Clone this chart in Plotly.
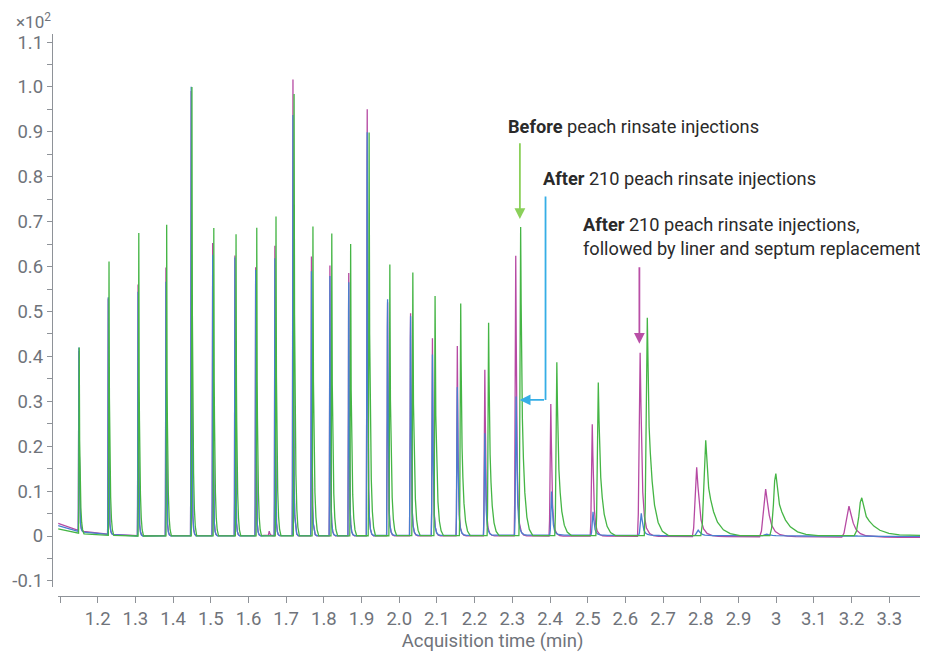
import numpy as np
import plotly.graph_objects as go

# peak apex times (min) and heights (x10^2 counts)
before_t = [1.151, 1.230, 1.309, 1.383, 1.450, 1.508, 1.567, 1.622, 1.673, 1.721,
            1.771, 1.821, 1.871, 1.920, 1.975, 2.036, 2.095, 2.163, 2.237, 2.322,
            2.418, 2.528, 2.658, 2.813, 2.999, 3.227]
before_h = [0.414, 0.610, 0.675, 0.693, 1.000, 0.686, 0.672, 0.686, 0.711, 0.984,
            0.689, 0.673, 0.650, 0.898, 0.604, 0.586, 0.534, 0.517, 0.474, 0.687,
            0.386, 0.341, 0.485, 0.212, 0.138, 0.084]
before_w = [0.0018, 0.0018, 0.0018, 0.0018, 0.0018, 0.0018, 0.0018, 0.0018, 0.0019, 0.002,
            0.0022, 0.0022, 0.0023, 0.0024, 0.0026, 0.0028, 0.0032, 0.0036, 0.004, 0.0046,
            0.0055, 0.0065, 0.008, 0.013, 0.016, 0.02]

replaced_t = [1.150, 1.228, 1.307, 1.381, 1.448, 1.505, 1.564, 1.619, 1.655, 1.670,
              1.718, 1.767, 1.816, 1.866, 1.915, 1.969, 2.030, 2.088, 2.154, 2.227,
              2.309, 2.402, 2.512, 2.639, 2.789, 2.972, 3.193]
replaced_h = [0.400, 0.525, 0.559, 0.597, 0.990, 0.652, 0.624, 0.598, 0.010, 0.646,
              1.016, 0.622, 0.602, 0.585, 0.950, 0.520, 0.496, 0.440, 0.423, 0.370,
              0.624, 0.294, 0.249, 0.409, 0.154, 0.106, 0.069]
replaced_w = [0.0018, 0.0018, 0.0018, 0.0018, 0.0018, 0.0018, 0.0018, 0.0018, 0.003, 0.0018,
              0.002, 0.002, 0.0021, 0.0022, 0.0024, 0.0026, 0.0028, 0.0031, 0.0034, 0.0037,
              0.0041, 0.0047, 0.0055, 0.007, 0.0115, 0.016, 0.019]

after_t = [1.150, 1.228, 1.307, 1.381, 1.448, 1.505, 1.564, 1.619, 1.670, 1.718,
           1.767, 1.816, 1.866, 1.915, 1.969, 2.030, 2.088, 2.154, 2.227, 2.310,
           2.404, 2.514, 2.642, 2.793, 2.975, 3.198]
after_h = [0.410, 0.528, 0.544, 0.566, 1.000, 0.626, 0.620, 0.592, 0.618, 0.937,
           0.589, 0.578, 0.564, 0.898, 0.526, 0.488, 0.403, 0.330, 0.227, 0.309,
           0.097, 0.052, 0.049, 0.012, 0.004, 0.002]
after_w = [0.0018, 0.0018, 0.0018, 0.0018, 0.0018, 0.0018, 0.0018, 0.0018, 0.0018, 0.002,
           0.002, 0.0021, 0.0022, 0.0024, 0.0026, 0.0028, 0.0031, 0.0034, 0.0037, 0.0042,
           0.0048, 0.0055, 0.007, 0.011, 0.015, 0.018]

# baseline drift at the start of the run
base_t = [1.095, 1.12, 1.15, 1.2, 1.3, 2.4, 3.4]
before_base = [0.016, 0.011, 0.006, 0.002, 0.0, 0.001, 0.001]
replaced_base = [0.028, 0.020, 0.012, 0.005, 0.001, 0.0, -0.003]
after_base = [0.023, 0.016, 0.010, 0.005, 0.0, 0.002, -0.001]

x_ticks = [1.1, 1.2, 1.3, 1.4, 1.5, 1.6, 1.7, 1.8, 1.9, 2.0, 2.1, 2.2, 2.3,
           2.4, 2.5, 2.6, 2.7, 2.8, 2.9, 3.0, 3.1, 3.2, 3.3]
x_labels = ["", "1.2", "1.3", "1.4", "1.5", "1.6", "1.7", "1.8", "1.9", "2.0", "2.1",
            "2.2", "2.3", "2.4", "2.5", "2.6", "2.7", "2.8", "2.9", "3", "3.1", "3.2", "3.3"]
y_ticks = [-0.1, 0, 0.1, 0.2, 0.3, 0.4, 0.5, 0.6, 0.7, 0.8, 0.9, 1.0, 1.1]
y_labels = ["-0.1", "0", "0.1", "0.2", "0.3", "0.4", "0.5", "0.6", "0.7", "0.8", "0.9", "1.0", "1.1"]

# peak outline (in widths / fraction of apex)
REL_T = np.array([-1.0, -0.7, -0.4, -0.2, 0, 0.3, 0.6, 1.0, 1.6, 2.4, 3.6, 5.0, 7.0])
TAILING = np.array([0, 0.12, 0.5, 0.88, 1, 0.75, 0.5, 0.38, 0.25, 0.14, 0.06, 0.02, 0])
SHARP = np.array([0, 0.12, 0.5, 0.88, 1, 0.72, 0.45, 0.24, 0.11, 0.045, 0.015, 0.004, 0])

X0, X1 = 1.095, 3.40


def trace_xy(times, heights, widths, profile, b_t, b_v):
    xs, ys = [X0], [0.0]
    n = len(times)
    for i in range(n):
        px = times[i] + REL_T * widths[i]
        py = heights[i] * profile
        if i + 1 < n:
            keep = px < times[i + 1] + REL_T[0] * widths[i + 1]
            px, py = px[keep], py[keep]
        xs.extend(px)
        ys.extend(py)
    xs.append(X1)
    ys.append(0.0)
    xs = np.array(xs)
    return xs, np.array(ys) + np.interp(xs, b_t, b_v)


fig = go.Figure()

series = [
    (replaced_t, replaced_h, replaced_w, SHARP, replaced_base, "#b64aa3"),
    (after_t, after_h, after_w, SHARP, after_base, "#4a7fd0"),
    (before_t, before_h, before_w, TAILING, before_base, "#45b545"),
]
for t, h, w, prof, base, col in series:
    x, y = trace_xy(t, h, w, prof, base_t, base)
    fig.add_trace(go.Scatter(x=x, y=y, mode="lines", line=dict(color=col, width=1.3),
                             hoverinfo="skip", showlegend=False))

txt = dict(family="Roboto", size=18.2, color="#2a2a2a")
fig.add_annotation(x=2.283, y=0.913, text="<b>Before</b> peach rinsate injections",
                   showarrow=False, xanchor="left", yanchor="middle", font=txt)
fig.add_annotation(x=2.376, y=0.797, text="<b>After</b> 210 peach rinsate injections",
                   showarrow=False, xanchor="left", yanchor="middle", font=txt)
fig.add_annotation(x=2.482, y=0.667,
                   text="<b>After</b> 210 peach rinsate injections,<br>followed by liner and septum replacement",
                   showarrow=False, xanchor="left", yanchor="middle", align="left", font=txt)

# arrows
fig.add_annotation(x=2.320, y=0.706, ax=2.320, ay=0.878, axref="x", ayref="y", text="",
                   showarrow=True, arrowhead=2, arrowsize=1.2, arrowwidth=1.8, arrowcolor="#8bd05a")
fig.add_shape(type="line", x0=2.388, x1=2.388, y0=0.756, y1=0.303,
              line=dict(color="#36aee6", width=1.8))
fig.add_annotation(x=2.3195, y=0.303, ax=2.388, ay=0.303, axref="x", ayref="y", text="",
                   showarrow=True, arrowhead=2, arrowsize=1.2, arrowwidth=1.8, arrowcolor="#36aee6")
fig.add_annotation(x=2.637, y=0.428, ax=2.637, ay=0.602, axref="x", ayref="y", text="",
                   showarrow=True, arrowhead=2, arrowsize=1.2, arrowwidth=1.8, arrowcolor="#b94fa6")

fig.add_annotation(x=-0.043, y=1.024, xref="paper", yref="paper", text="×10<sup>2</sup>",
                   showarrow=False, xanchor="left", yanchor="middle",
                   font=dict(family="Roboto", size=17, color="#6f737a"))

axis_col = "#8e9298"
tick_font = dict(family="Roboto", size=18.5, color="#6f737a")
# the page body adds an 8px offset, so the figure is 8px smaller than the window
fig.update_layout(
    width=920, height=644,
    margin=dict(l=44, r=1, t=26, b=56),
    paper_bgcolor="white", plot_bgcolor="white",
    font=dict(family="Roboto"),
    xaxis=dict(domain=[0.007, 1], range=[X0, X1], anchor="free", position=0,
               showline=True, linecolor=axis_col, linewidth=1.3, automargin=False,
               ticks="outside", ticklen=6, tickcolor=axis_col, tickwidth=1.3,
               tickmode="array", tickvals=x_ticks, ticktext=x_labels, tickfont=tick_font,
               showgrid=False, zeroline=False,
               title=dict(text="Acquisition time (min)", font=tick_font)),
    yaxis=dict(domain=[0.016, 1], range=[-0.1136, 1.118], anchor="free", position=0,
               showline=True, linecolor=axis_col, linewidth=1.3, automargin=False,
               ticks="outside", ticklen=5, tickcolor=axis_col, tickwidth=1.3,
               tickmode="array", tickvals=y_ticks, ticktext=y_labels, tickfont=tick_font,
               minor=dict(tickmode="linear", tick0=0.05, dtick=0.1, ticks="outside",
                          ticklen=5, tickcolor=axis_col, tickwidth=1.3),
               showgrid=False, zeroline=False),
)

fig.write_html("out.html")
